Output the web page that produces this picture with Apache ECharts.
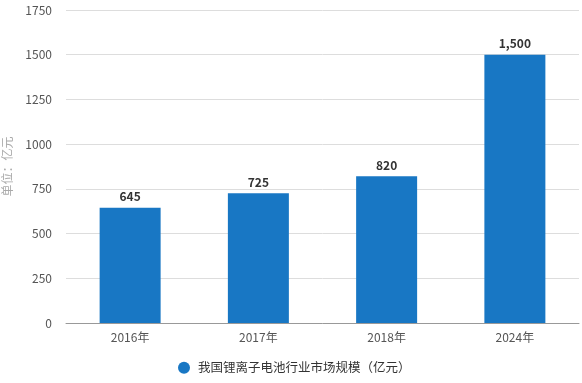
<!DOCTYPE html>
<html><head><meta charset="utf-8">
<script src="https://cdn.jsdelivr.net/npm/echarts@6/dist/echarts.min.js"></script>
<style>html,body{margin:0;padding:0;background:#fff}#c{width:582px;height:383px}</style>
</head><body><div id="c"></div>
<script>
const categories = ['2016年','2017年','2018年','2024年'];
const values = [645, 725, 820, 1500];
const seriesName = '我国锂离子电池行业市场规模（亿元）';
const yName = '单位：亿元';

const chart = echarts.init(document.getElementById('c'));
chart.setOption({
  animation: false,
  textStyle: {fontFamily: '"Noto Sans CJK SC", "Noto Sans", sans-serif'},
  grid: {left: 66, right: 3, top: 10, bottom: 60, containLabel: false, outerBoundsMode: 'none'},
  legend: {
    bottom: 4, left: 173, icon: 'circle', itemWidth: 12, itemHeight: 12,
    textStyle: {fontSize: 12.5, color: '#333', padding: [0, 0, 0, 3]},
    data: [seriesName]
  },
  xAxis: {
    type: 'category', data: categories,
    axisLine: {lineStyle: {color: '#999'}},
    axisTick: {alignWithLabel: true, length: 5, lineStyle: {color: '#999'}},
    axisLabel: {color: '#555', fontSize: 12, margin: 8}
  },
  yAxis: {
    type: 'value', min: 0, max: 1750, interval: 250,
    name: yName, nameLocation: 'middle', nameGap: 53, nameMoveOverlap: false,
    nameTextStyle: {color: '#aaa', fontSize: 12},
    axisLine: {show: false}, axisTick: {show: false},
    axisLabel: {color: '#555', fontSize: 12, margin: 14, formatter: v => String(v)},
    splitLine: {lineStyle: {color: '#ddd'}}
  },
  series: [{
    name: seriesName, type: 'bar', data: values, barWidth: 61,
    itemStyle: {color: '#1877c4'},
    label: {show: true, position: 'top', color: '#333', fontWeight: 'bold', fontSize: 12,
      formatter: p => p.value.toLocaleString('en-US')}
  }]
});
</script></body></html>
